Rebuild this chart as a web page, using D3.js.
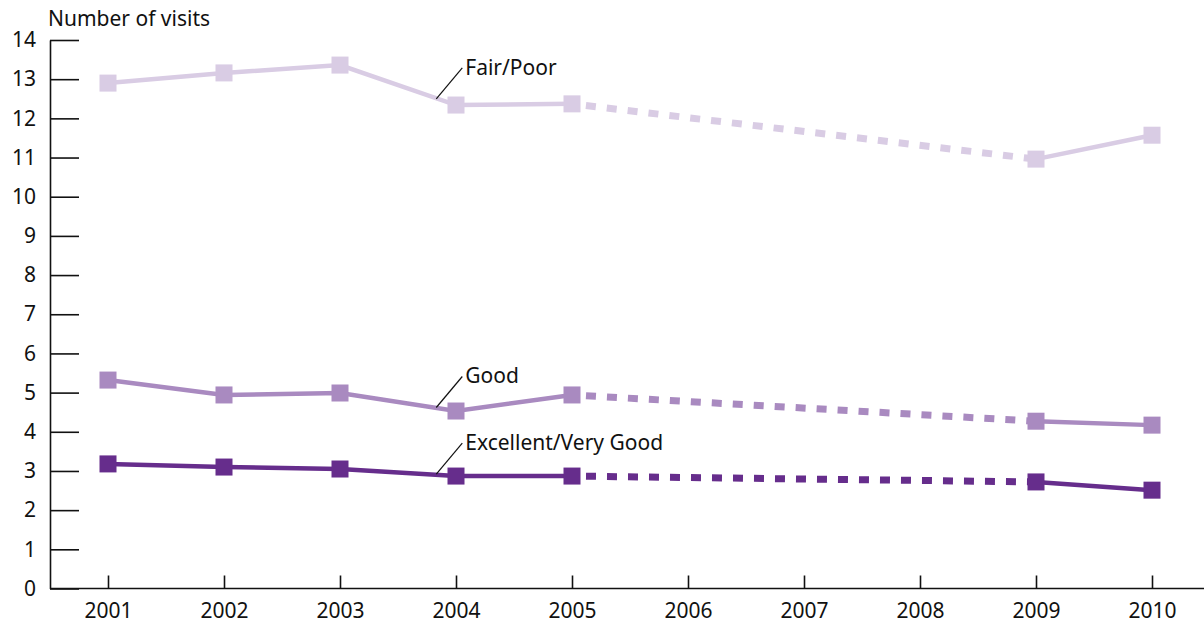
<!DOCTYPE html>
<html>
<head>
  <meta charset="utf-8">
  <script src="https://cdn.jsdelivr.net/npm/d3@7"></script>
  <style type="text/css">
    body { margin: 0; background: #fff; }
    .chart text {
      font-family: "Noto Sans", sans-serif;
      font-size: 21px;
      fill: #111;
    }
    .axis path, .axis line { stroke: #111; stroke-width: 1.6px; }
  </style>
</head>
<body>
  <script type="text/javascript">
    // data
    var years = [2001, 2002, 2003, 2004, 2005, 2009, 2010];
    var tickYears = [2001, 2002, 2003, 2004, 2005, 2006, 2007, 2008, 2009, 2010];
    var fairPoor = [12.90, 13.16, 13.36, 12.34, 12.37, 10.96, 11.57];
    var good = [5.32, 4.94, 4.99, 4.53, 4.94, 4.27, 4.17];
    var excellent = [3.18, 3.10, 3.05, 2.87, 2.87, 2.72, 2.51];
    var seriesNames = ['Fair/Poor', 'Good', 'Excellent/Very Good'];
    var seriesColors = ['#d9cce4', '#a98ac0', '#662d8c'];
    var gapYears = [2005, 2009];   // no survey in between, drawn dashed
    // where each label's leader line touches the series (year, value)
    var labelAnchors = [[2003.83, 12.50], [2003.83, 4.62], [2003.83, 2.92]];

    var width = 1204, height = 624,
        marginLeft = 50, plotTop = 40, plotBottom = 588.5;

    var svg = d3.select('body').append('svg')
        .attr('class', 'chart')
        .attr('width', width)
        .attr('height', height);

    var x = d3.scaleLinear().domain([2001, 2010]).range([108, 1152]);
    var y = d3.scaleLinear().domain([0, 14]).range([plotBottom, plotTop]);

    // axes
    svg.append('g')
        .attr('class', 'axis y-axis')
        .attr('transform', 'translate(' + marginLeft + ',0)')
        .call(d3.axisLeft(y).ticks(14).tickSizeInner(-29).tickSizeOuter(0).tickPadding(14));

    svg.append('g')
        .attr('class', 'axis x-axis')
        .attr('transform', 'translate(0,' + plotBottom + ')')
        .call(d3.axisBottom(x).tickValues(tickYears).tickFormat(d3.format('d'))
          .tickSizeInner(-13).tickSizeOuter(0).tickPadding(15))
        .select('.domain').remove();

    svg.append('line')
        .attr('x1', marginLeft).attr('x2', width)
        .attr('y1', plotBottom).attr('y2', plotBottom)
        .attr('stroke', '#111').attr('stroke-width', 1.6);

    svg.append('text')
        .attr('x', 48).attr('y', 26)
        .text('Number of visits');

    var series = [fairPoor, good, excellent].map(function(vals, i) {
      return {
        name: seriesNames[i],
        color: seriesColors[i],
        points: years.map(function(yr, j) { return {year: yr, value: vals[j]}; })
      };
    });

    var line = d3.line()
        .x(function(d) { return x(d.year); })
        .y(function(d) { return y(d.value); });

    function inGap(d) { return d.year >= gapYears[0] && d.year <= gapYears[1]; }

    series.forEach(function(s, i) {
      var before = s.points.filter(function(d) { return d.year <= gapYears[0]; });
      var gap = s.points.filter(inGap);
      var after = s.points.filter(function(d) { return d.year >= gapYears[1]; });

      [before, after].forEach(function(seg) {
        svg.append('path')
            .datum(seg)
            .attr('fill', 'none')
            .attr('stroke', s.color)
            .attr('stroke-width', 4.5)
            .attr('d', line);
      });

      svg.append('path')
          .datum(gap)
          .attr('fill', 'none')
          .attr('stroke', s.color)
          .attr('stroke-width', 7)
          .attr('stroke-dasharray', '10,11')
          .attr('stroke-dashoffset', 7)
          .attr('d', line);

      svg.selectAll('.marker-' + i)
          .data(s.points)
          .enter().append('rect')
          .attr('class', 'marker-' + i)
          .attr('x', function(d) { return x(d.year) - 8.5; })
          .attr('y', function(d) { return y(d.value) - 8.5; })
          .attr('width', 17)
          .attr('height', 17)
          .attr('fill', s.color);

      // label with leader line
      var a = labelAnchors[i];
      var ax = x(a[0]), ay = y(a[1]);
      svg.append('line')
          .attr('x1', ax).attr('y1', ay)
          .attr('x2', ax + 26).attr('y2', ay - 31)
          .attr('stroke', '#111').attr('stroke-width', 1.2);
      svg.append('text')
          .attr('x', ax + 29).attr('y', ay - 24)
          .text(s.name);
    });
  </script>
</body>
</html>
